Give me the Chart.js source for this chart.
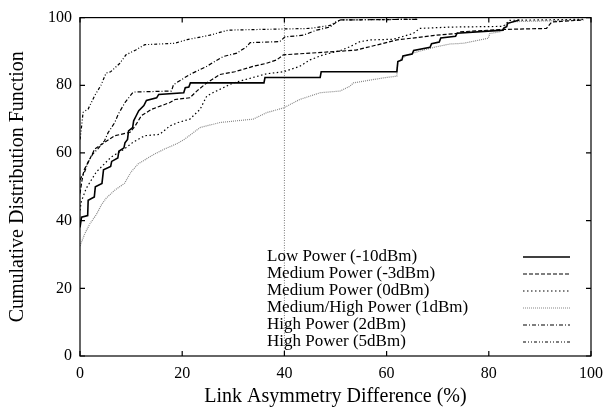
<!DOCTYPE html>
<html>
<head>
<meta charset="utf-8">
<script src="https://cdn.jsdelivr.net/npm/chart.js@4/dist/chart.umd.min.js"></script>
<style>
  html, body { margin: 0; padding: 0; background: #fff; }
  #wrap { width: 605px; height: 411px; }
</style>
</head>
<body>
<div id="wrap"><canvas id="cdfChart"></canvas></div>
<script>
// CDF curves, as [x, y] pairs
const lowPower = [[0,38],[0.3,41],[1.5,41.5],[1.6,46],[2.8,47],[3,50],[4.3,51],[4.6,55],[6,56],[6.2,57.5],[7.4,58.5],[7.6,60.5],[8.6,61.5],[8.8,63],[9.3,64],[9.5,66.5],[10.3,67.5],[10.5,69.5],[11,71],[11.5,72.5],[12.5,74],[13,75.5],[15,76.3],[15.4,77.3],[20.3,77.8],[20.6,79.3],[21.3,79.5],[21.6,80.7],[36,80.7],[36.2,82.3],[47,82.3],[47.2,84],[62,84],[62.2,87],[63,87.5],[63.2,88.7],[65,89.2],[65.3,90.3],[68.5,91.2],[68.8,92.3],[70.3,92.8],[70.6,94],[73.5,94.5],[73.8,95.4],[82.8,96.3],[83,97],[83.5,97.3],[83.7,98.3],[86,99.3]];
const mediumPowerM3 = [[0,48],[0.4,52],[0.8,55],[1.6,57.3],[2.9,61.2],[4.9,63.2],[6.8,65.1],[9.8,66.1],[10.8,68],[12,71],[14,72.9],[17.6,74.9],[18.6,75.8],[21.5,76.3],[23,78.5],[24.8,80.7],[27.4,83.2],[30.3,84],[33.9,85.6],[36.5,86.5],[38.5,87.5],[39.8,89],[45,89.5],[50.2,90],[54,90.4],[57,91.5],[60.7,92.9],[62,93.4],[69.8,94.8],[73.7,95.3],[74.4,95.8],[82.8,96.5],[91.3,96.8],[91.5,97.2],[92.3,98.7],[98.5,99.3]];
const mediumPower0 = [[0,43],[0.25,45.6],[1.2,49.5],[3.2,54.4],[6.1,58.8],[8.7,61.2],[10.4,63.2],[12.7,65.1],[15.6,65.5],[17.6,68],[19.2,69],[21.5,70],[23.5,72.9],[24.8,76.8],[26,77.8],[30,80.7],[36.5,83.4],[39.8,84],[43,85.6],[45,87.5],[47.6,89],[50.9,90.2],[52.8,91.4],[54.8,92.9],[56.8,93.4],[61.3,93.6],[65.2,95.3],[66.5,96.8],[72.4,97.2],[82.8,97.4],[84.1,99.2],[98.5,99.5]];
const mediumHighPower1 = [[0,32.5],[0.9,36],[1.9,39],[3.2,41.8],[4.2,44.7],[5.1,46.6],[6.8,49],[8.7,51],[10,54.4],[11.4,56.8],[14.6,59.7],[16.6,61.2],[18.9,62.7],[20.5,64.1],[23.5,67.5],[27.4,69],[33.9,70],[36.5,71.9],[39.8,73.3],[43,75.8],[47,77.8],[50.9,78.3],[52.8,79.7],[53.5,80.7],[59.4,82.2],[62,82.7],[62.2,87],[64,89],[67.2,90.4],[69.8,91.4],[72.4,92.2],[75,92.4],[79.9,93.9],[80.2,95.3],[82.2,95.8],[82.8,96.8],[83.5,98.2],[85,98.8],[98.5,99.3]];
const highPower2 = [[0,52],[0.3,53],[0.9,54.4],[1.6,57.3],[2.5,59.7],[3.5,61.2],[4.8,63.6],[5.5,66],[6.8,69],[7.5,71.5],[8.8,74.9],[10.4,78],[17.9,78.3],[18.3,80.2],[21.5,83.2],[24.8,85.6],[28,88.5],[30.7,89.5],[32.6,91.4],[33.3,92.6],[39.1,92.9],[40.1,94.3],[43.7,94.8],[46.3,96.3],[48.9,97.2],[50.2,98.7],[51,99.3],[66,99.5]];
const highPower5 = [[0,64],[0.25,67],[0.6,72],[1.6,73],[2.9,77],[4.1,80],[5.1,83.6],[6,84],[7.8,86.5],[9,89],[11,90.5],[12.7,92],[18.5,92.4],[21,93.5],[25.4,94.8],[29,96.3],[45,96.8],[49,97.7],[50,98.7],[51,99.3],[66,99.5]];

const seriesLabels = ['Low Power (-10dBm)', 'Medium Power (-3dBm)', 'Medium Power (0dBm)',
                      'Medium/High Power (1dBm)', 'High Power (2dBm)', 'High Power (5dBm)'];
const xTicks = [0, 20, 40, 60, 80, 100];
const yTicks = [0, 20, 40, 60, 80, 100];
const markerX = 40; // vertical reference line

const serif = '"Liberation Serif", "Times New Roman", serif';
const toPoints = (arr) => arr.map(p => ({ x: p[0], y: p[1] }));

function lineSet(label, data, color, width, dash) {
    return {
        label: label,
        data: toPoints(data),
        borderColor: color,
        borderWidth: width,
        borderDash: dash,
        pointRadius: 0,
        showLine: true,
        fill: false,
        tension: 0
    };
}

const datasets = [
    lineSet(seriesLabels[0], lowPower, '#000', 1.6, []),
    lineSet(seriesLabels[1], mediumPowerM3, '#000', 1.2, [4, 2]),
    lineSet(seriesLabels[2], mediumPower0, '#000', 1.2, [1.5, 2.5]),
    lineSet(seriesLabels[3], mediumHighPower1, '#888', 1.2, [1, 1]),
    lineSet(seriesLabels[4], highPower2, '#000', 1.2, [4, 2, 1, 2]),
    lineSet(seriesLabels[5], highPower5, '#000', 1.2, [3, 2, 1, 2, 1, 2]),
    lineSet('', [[markerX, 0], [markerX, 100]], '#777', 1, [1, 1.5])
];

// frame, inward ticks on all four sides, and the gnuplot-style key
const framePlugin = {
    id: 'frameAndKey',
    afterDraw(chart) {
        const { ctx, chartArea: a, scales } = chart;
        ctx.save();
        ctx.strokeStyle = '#000';
        ctx.lineWidth = 1.2;
        ctx.setLineDash([]);
        ctx.strokeRect(a.left, a.top, a.right - a.left, a.bottom - a.top);
        const t = 5;
        ctx.beginPath();
        xTicks.forEach(v => {
            const px = scales.x.getPixelForValue(v);
            ctx.moveTo(px, a.bottom); ctx.lineTo(px, a.bottom - t);
            ctx.moveTo(px, a.top); ctx.lineTo(px, a.top + t);
        });
        yTicks.forEach(v => {
            const py = scales.y.getPixelForValue(v);
            ctx.moveTo(a.left, py); ctx.lineTo(a.left + t, py);
            ctx.moveTo(a.right, py); ctx.lineTo(a.right - t, py);
        });
        ctx.stroke();

        // key
        const rowH = 17;
        const n = seriesLabels.length;
        ctx.font = '17px ' + serif;
        ctx.fillStyle = '#000';
        ctx.textBaseline = 'middle';
        ctx.textAlign = 'left';
        for (let i = 0; i < n; i++) {
            const ds = chart.data.datasets[i];
            const y = a.bottom - 14 - (n - 1 - i) * rowH;
            ctx.fillText(ds.label, a.left + 187, y);
            ctx.beginPath();
            ctx.strokeStyle = ds.borderColor;
            ctx.lineWidth = ds.borderWidth;
            ctx.setLineDash(ds.borderDash);
            ctx.moveTo(a.right - 68, y);
            ctx.lineTo(a.right - 21, y);
            ctx.stroke();
        }
        ctx.restore();
    }
};

new Chart(document.getElementById('cdfChart'), {
    type: 'scatter',
    data: { datasets: datasets },
    options: {
        responsive: true,
        maintainAspectRatio: false,
        animation: false,
        layout: { padding: { left: 0, right: 14, top: 14, bottom: 0 } },
        plugins: {
            legend: { display: false },
            tooltip: { enabled: false }
        },
        scales: {
            x: {
                type: 'linear',
                min: 0, max: 100,
                afterBuildTicks: (s) => { s.ticks = xTicks.map(v => ({ value: v })); },
                afterFit: (s) => { s.height = 55; s.paddingRight = 0; s.paddingLeft = 0; },
                grid: { display: false, drawTicks: false },
                border: { display: false },
                ticks: { color: '#000', padding: 8, font: { family: serif, size: 16 } },
                title: {
                    display: true,
                    text: 'Link Asymmetry Difference (%)',
                    color: '#000',
                    font: { family: serif, size: 20 },
                    padding: { top: 0, bottom: 2 }
                }
            },
            y: {
                type: 'linear',
                min: 0, max: 100,
                afterBuildTicks: (s) => { s.ticks = yTicks.map(v => ({ value: v })); },
                afterFit: (s) => { s.width = 80; },
                grid: { display: false, drawTicks: false },
                border: { display: false },
                ticks: { color: '#000', padding: 8, font: { family: serif, size: 16 } },
                title: {
                    display: true,
                    text: 'Cumulative Distribution Function',
                    color: '#000',
                    font: { family: serif, size: 20 },
                    padding: { top: 6, bottom: 0 }
                }
            }
        }
    },
    plugins: [framePlugin]
});
</script>
</body>
</html>
